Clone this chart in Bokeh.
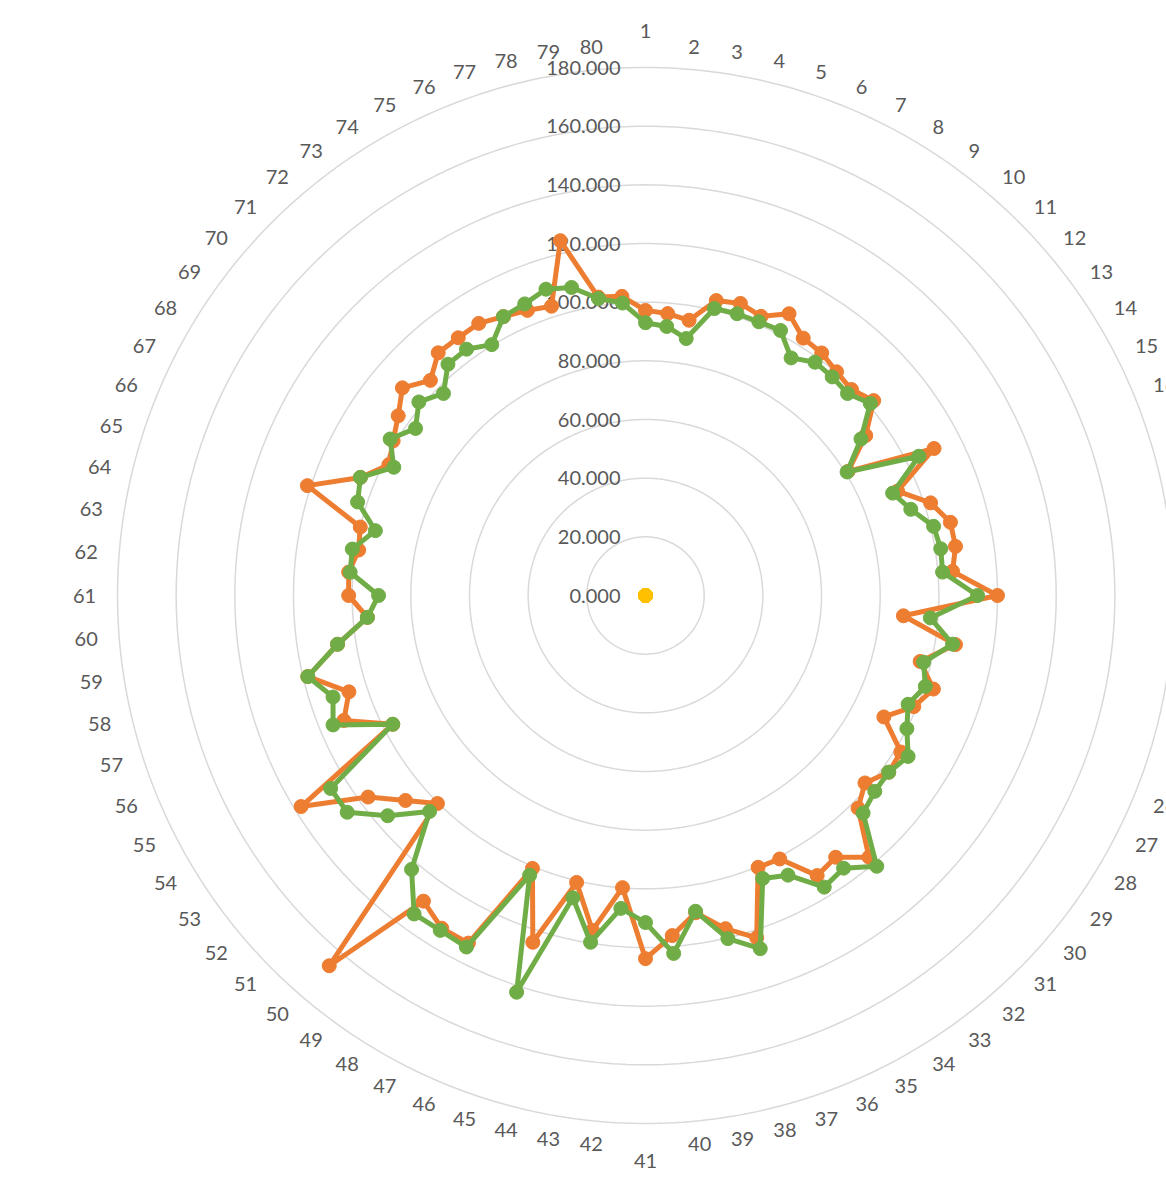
import numpy as np
from bokeh.plotting import figure
from bokeh.models import Range1d, ColumnDataSource
from bokeh.core.properties import value
from bokeh.embed import file_html
from bokeh.resources import INLINE

categories = [str(i) for i in range(1, 81)]

series_orange = [97.2, 96.4, 95.0, 103.4, 104.7, 103.0, 107.8, 102.9, 102.2, 100.3,
                 99.3, 102.3, 92.8, 81.0, 110.4, 93.0, 102.2, 106.9, 107.0, 105.0,
                 120.0, 88.2, 107.0, 96.3, 103.2, 99.0, 91.2, 102.1, 102.5, 98.4,
                 102.5, 117.3, 110.3, 112.0, 100.8, 100.3, 122.7, 116.8, 109.5, 116.3,
                 123.8, 99.9, 115.6, 100.6, 124.3, 100.7, 133.0, 133.0, 128.8, 166.0,
                 100.3, 107.6, 116.9, 137.7, 96.7, 111.3, 106.3, 118.4, 106.3, 95.1,
                 101.2, 101.5, 99.0, 100.0, 121.2, 105.2, 98.2, 100.9, 104.2, 109.0,
                 103.7, 108.8, 108.6, 108.8, 106.7, 105.2, 103.7, 124.4, 103.0, 102.3]

series_green = [93.0, 92.0, 88.7, 100.6, 101.0, 101.0, 101.4, 95.0, 98.3, 98.0,
                97.4, 100.8, 90.8, 80.6, 104.6, 91.2, 95.1, 101.0, 101.9, 101.6,
                113.2, 97.4, 106.0, 97.5, 100.3, 96.9, 100.0, 105.0, 102.5, 102.8,
                104.9, 121.4, 114.9, 116.6, 107.0, 104.4, 126.6, 120.3, 109.0, 122.4,
                111.5, 107.0, 119.7, 106.0, 142.2, 103.2, 134.5, 133.9, 134.2, 122.8,
                104.1, 115.6, 125.7, 125.9, 96.7, 115.3, 112.0, 118.4, 106.3, 95.1,
                91.0, 101.0, 101.2, 94.7, 103.2, 105.2, 96.3, 102.1, 96.9, 101.6,
                97.4, 103.7, 103.8, 100.3, 106.7, 107.6, 109.8, 108.0, 102.5, 100.0]

series_yellow = [0.0] * 80

ring_values = [0, 20, 40, 60, 80, 100, 120, 140, 160, 180]
ring_labels = ["0.000", "20.000", "40.000", "60.000", "80.000", "100.000",
               "120.000", "140.000", "160.000", "180.000"]

K = 528.0 / 180.0  # pixels per unit
W, H = 1166, 1196
CX, CY = 645, 595  # centre in figure pixels

p = figure(width=W, height=H, output_backend="svg", toolbar_location=None,
           x_axis_location=None, y_axis_location=None, min_border=0,
           x_range=Range1d(-CX / K, (W - CX) / K),
           y_range=Range1d(-(H - CY) / K, CY / K))
p.grid.visible = False
p.outline_line_color = None
p.background_fill_color = "white"
p.border_fill_color = "white"

n = len(categories)
ang = np.arange(n) * 2 * np.pi / n  # clockwise from top

# rings
t = np.linspace(0, 2 * np.pi, 400)
for rv in ring_values[1:]:
    p.line(rv * np.sin(t), rv * np.cos(t), line_color="#d9d9d9", line_width=1.5)

# tick labels
p.text(x=[-25 / K] * len(ring_values), y=ring_values, text=ring_labels,
       text_align="right", text_baseline="middle", text_color="#595959",
       text_font=value("Lato"), text_font_size="20px")

# category labels: anchored outside the outer ring, text pushed sideways
sn, cs = np.sin(ang), np.cos(ang)
sn = np.where(np.abs(sn) < 1e-9, 0.0, sn)
cs = np.where(np.abs(cs) < 1e-9, 0.0, cs)
half_w = np.array([5.5 if len(cname) == 1 else 11.0 for cname in categories])
R_A = 550.0
lx = (R_A * sn + np.sign(sn) * half_w) / K
ly = (R_A * cs + np.where(sn == 0, np.sign(cs) * 15.0, 0.0)) / K
p.text(x=lx, y=ly, text=categories,
       text_align="center", text_baseline="middle", text_color="#595959",
       text_font=value("Lato"), text_font_size="20px")

def draw(vals, color):
    v = np.array(vals, dtype=float)
    xs = v * np.sin(ang)
    ys = v * np.cos(ang)
    src = ColumnDataSource(dict(x=xs, y=ys))
    p.line(np.append(xs, xs[0]), np.append(ys, ys[0]), line_color=color,
           line_width=5, line_join="round")
    p.scatter("x", "y", source=src, marker="circle", size=14,
              fill_color=color, line_color=color)

draw(series_orange, "#ED7D31")
draw(series_green, "#70AD47")
draw(series_yellow, "#FFC000")

open("out.html", "w").write(file_html(p, INLINE))
